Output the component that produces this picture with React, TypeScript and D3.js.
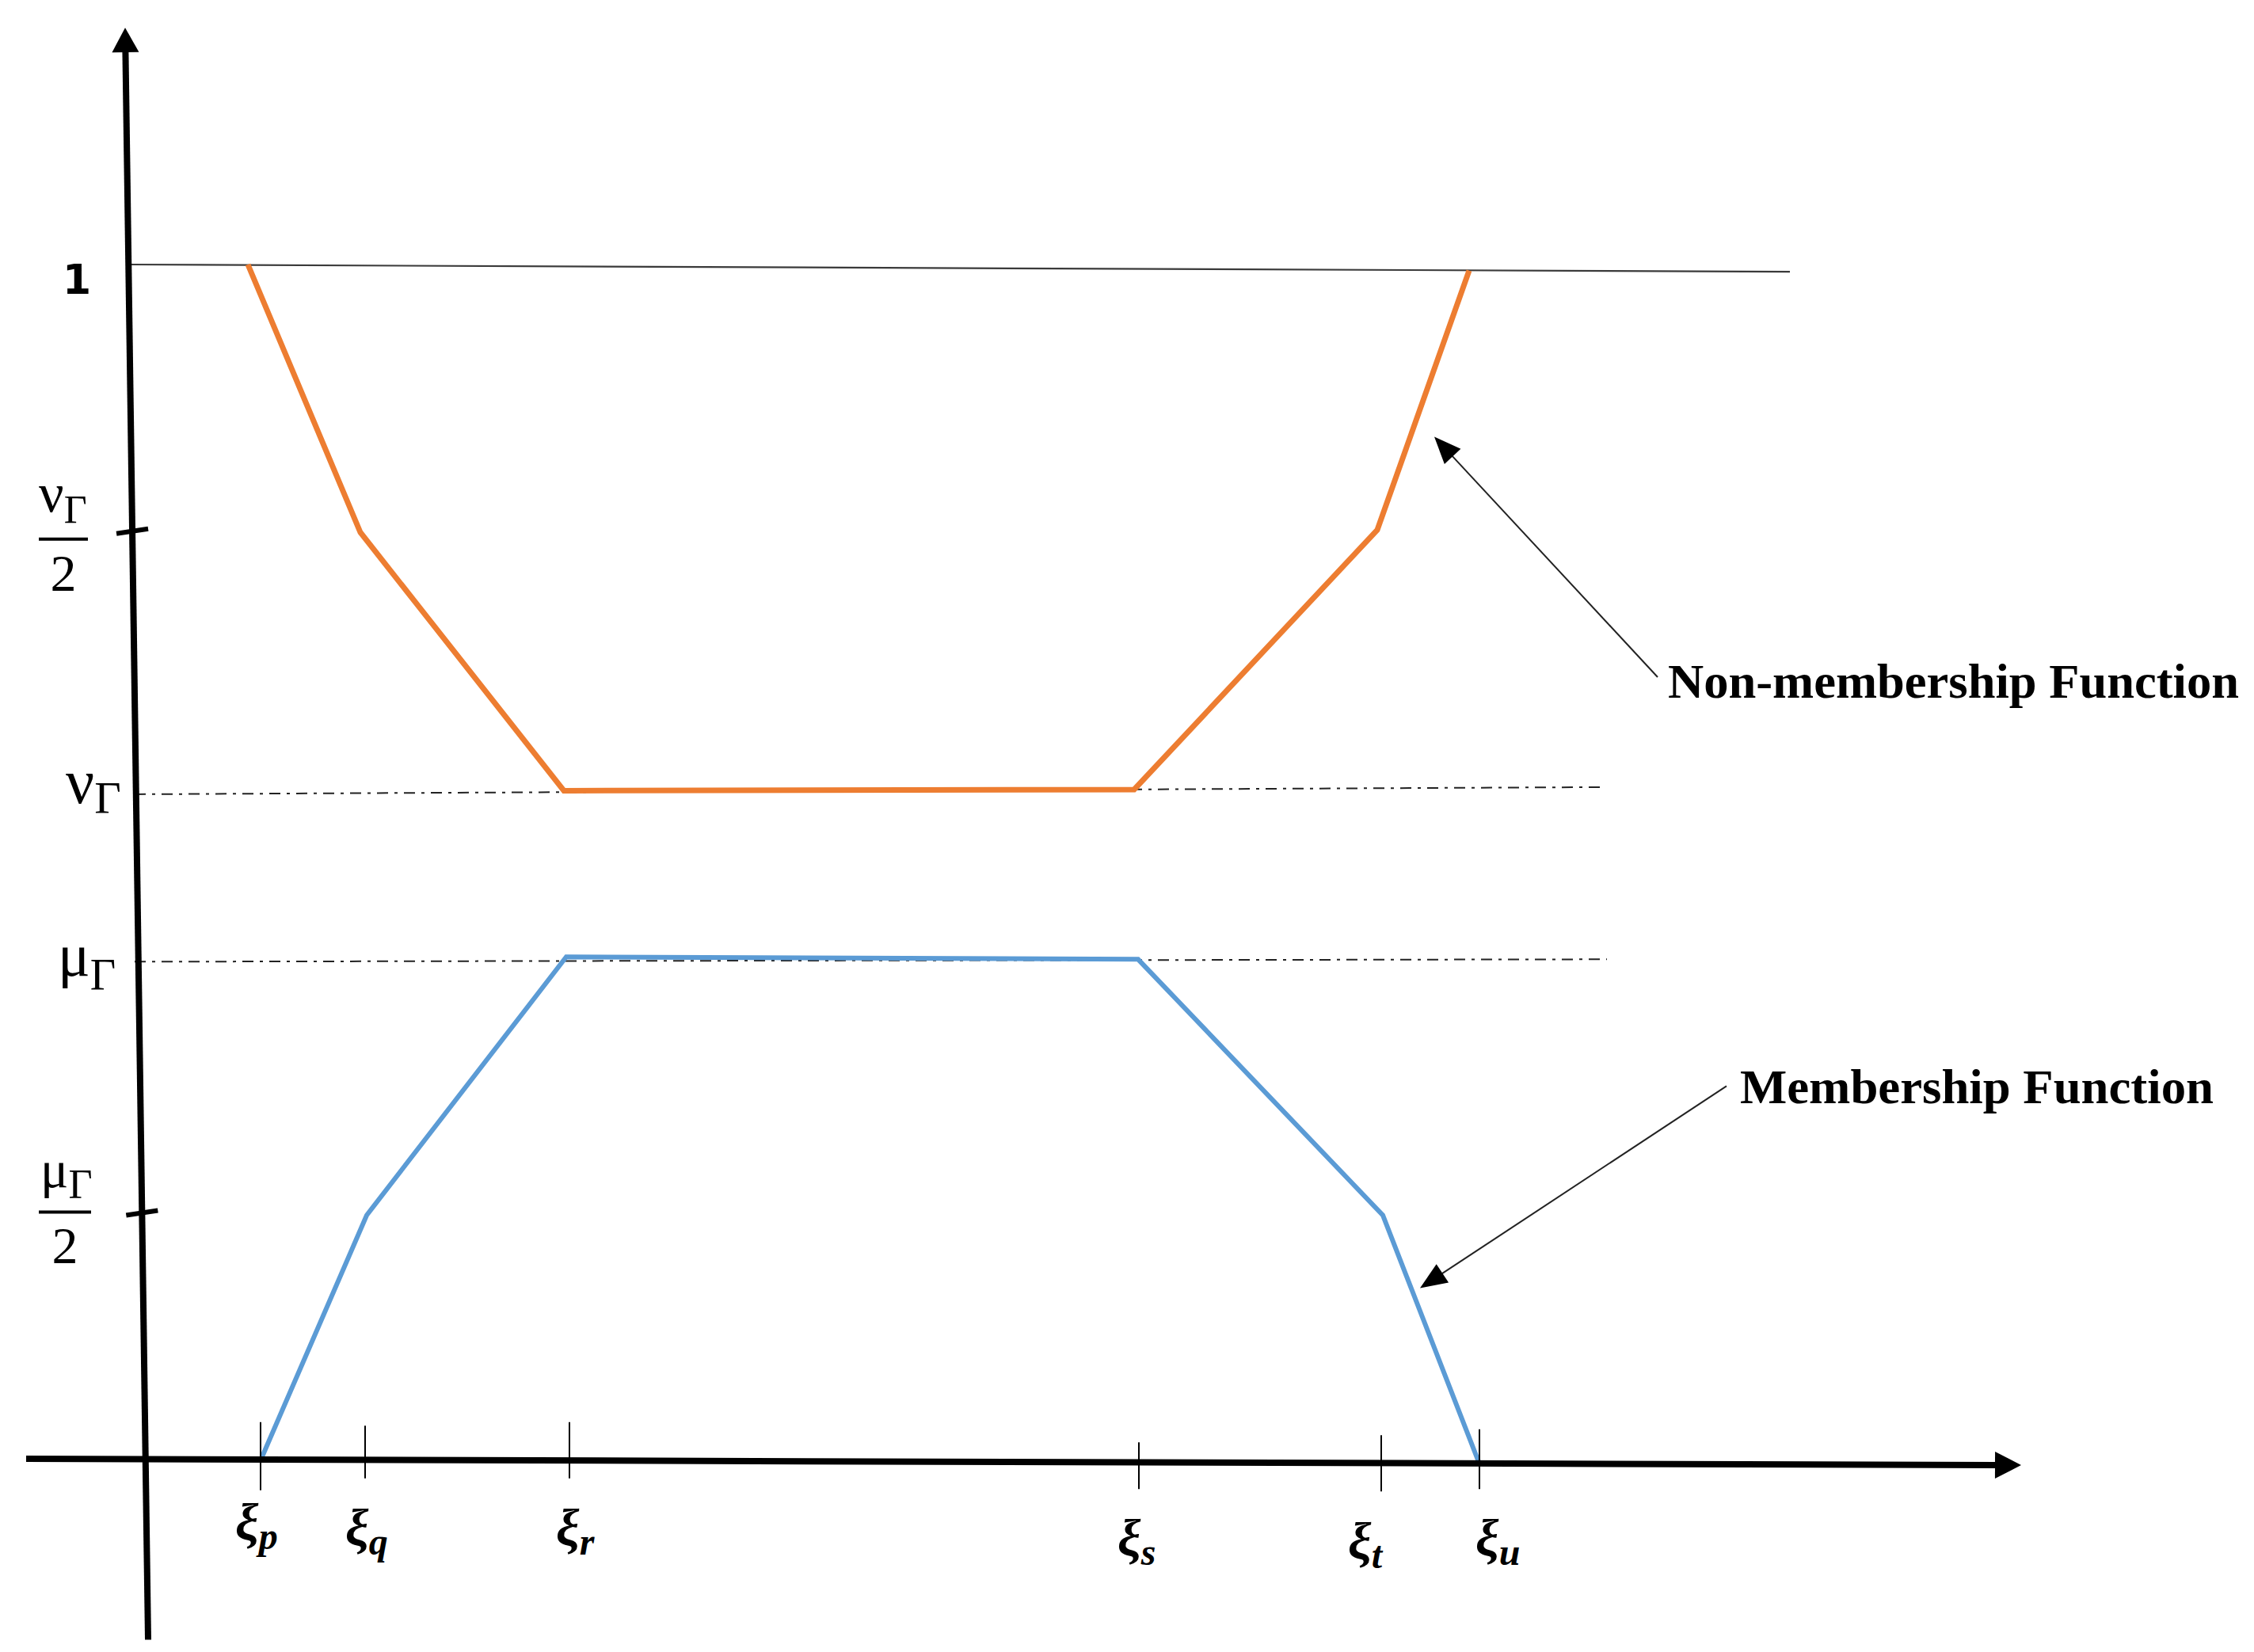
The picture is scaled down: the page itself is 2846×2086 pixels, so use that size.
import React from 'react';
import * as d3 from 'd3';

const W = 2846;
const H = 2086;

// ξ tick positions (x units) and names
const xiNames = ['p', 'q', 'r', 's', 't', 'u'];
const xiValues = [7.25, 13.85, 26.75, 62.7, 78.0, 84.2];
const xiTickUp = [0.032, 0.029, 0.032, 0.015, 0.021, 0.026];
const xiTickDown = [-0.025, -0.015, -0.015, -0.024, -0.026, -0.024];
const xiLabelDx = [-32, -25, -17, -27, -42, -5];
const xiLabelDy = [100, 107, 107, 120, 124, 120];

// Membership function (blue)
const muX = [7.25, 13.95, 26.55, 62.65, 78.1, 84.2];
const muY = [0, 0.205, 0.421, 0.419, 0.205, -0.003];

// Non-membership function (orange)
const nuX = [6.45, 13.55, 26.4, 62.4, 77.75, 83.55];
const nuY = [1.0, 0.776, 0.56, 0.561, 0.778, 0.995];

// reference levels
const oneLineX = [-1.05, 103.8];
const oneLineY = [1.0, 0.994];
const nuLevelX = [-0.7, 92.15];
const nuLevelY = [0.557, 0.563];
const muLevelX = [-0.7, 92.25];
const muLevelY = [0.417, 0.419];

// y ticks: νΓ/2 and μΓ/2
const yTickValues = [0.777, 0.207];

// axes endpoints
const xAxisX = [-7.55, 118.4];
const xAxisY = [0.0013, -0.004];
const yAxisX = [0.15, -1.3];
const yAxisY = [-0.15, 1.198];

// annotations
const annNonText = 'Non-membership Function';
const annNonFrom = [95.45, 0.655];
const annNonTip = [81.35, 0.856];
const annNonLabel = [96.1, 0.638];
const annMemText = 'Membership Function';
const annMemFrom = [99.8, 0.313];
const annMemTip = [80.45, 0.144];
const annMemLabel = [100.65, 0.299];

const ORANGE = '#ED7D31';
const BLUE = '#5B9BD5';

const x = d3.scaleLinear().domain([0, 100]).range([184, 2184]);
const y = d3.scaleLinear().domain([0, 1]).range([1844, 334]);

function head(tip: number[], from: number[], len: number, half: number) {
  const dx = tip[0] - from[0];
  const dy = tip[1] - from[1];
  const L = Math.hypot(dx, dy);
  const ux = dx / L;
  const uy = dy / L;
  const bx = tip[0] - ux * len;
  const by = tip[1] - uy * len;
  return {
    pts: `${tip[0]},${tip[1]} ${bx - uy * half},${by + ux * half} ${bx + uy * half},${by - ux * half}`,
    base: [bx + ux * 2, by + uy * 2],
  };
}

const line = d3
  .line<[number, number]>()
  .x((d) => x(d[0]))
  .y((d) => y(d[1]));

export default function App() {
  const serif = '"Liberation Serif", "Times New Roman", serif';

  const muPts = muX.map((v, i) => [v, muY[i]] as [number, number]);
  const nuPts = nuX.map((v, i) => [v, nuY[i]] as [number, number]);

  // axes in pixels
  const xa0 = [x(xAxisX[0]), y(xAxisY[0])];
  const xa1 = [x(xAxisX[1]), y(xAxisY[1])];
  const xHead = head(xa1, xa0, 33, 17);
  const ya0 = [x(yAxisX[0]), y(yAxisY[0])];
  const ya1 = [x(yAxisX[1]), y(yAxisY[1])];
  const yHead = head(ya1, ya0, 31, 17);

  const axisXAt = (py: number) => ya0[0] + ((ya1[0] - ya0[0]) * (py - ya0[1])) / (ya1[1] - ya0[1]);

  const nonFrom = [x(annNonFrom[0]), y(annNonFrom[1])];
  const nonTip = [x(annNonTip[0]), y(annNonTip[1])];
  const nonHead = head(nonTip, nonFrom, 34, 14);
  const memFrom = [x(annMemFrom[0]), y(annMemFrom[1])];
  const memTip = [x(annMemTip[0]), y(annMemTip[1])];
  const memHead = head(memTip, memFrom, 34, 14);

  const x0 = x(0);
  const yNuHalf = y(yTickValues[0]);
  const yMuHalf = y(yTickValues[1]);
  const yNu = y(nuLevelY[0]);
  const yMu = y(muLevelY[0]);

  return (
    <svg
      width={W}
      height={H}
      viewBox={`0 0 ${W} ${H}`}
      style={{ position: 'absolute', left: 0, top: 0, display: 'block', background: '#fff' }}
    >
      <rect x={0} y={0} width={W} height={H} fill="#fff" />

      {/* level 1 line */}
      <line
        x1={x(oneLineX[0])}
        y1={y(oneLineY[0])}
        x2={x(oneLineX[1])}
        y2={y(oneLineY[1])}
        stroke="#3a3a3a"
        strokeWidth={2.2}
      />
      {/* dash-dot reference levels */}
      <line
        x1={x(nuLevelX[0])}
        y1={y(nuLevelY[0])}
        x2={x(nuLevelX[1])}
        y2={y(nuLevelY[1])}
        stroke="#222"
        strokeWidth={2}
        strokeDasharray="14 8 4 8"
      />
      <line
        x1={x(muLevelX[0])}
        y1={y(muLevelY[0])}
        x2={x(muLevelX[1])}
        y2={y(muLevelY[1])}
        stroke="#222"
        strokeWidth={2}
        strokeDasharray="14 8 4 8"
      />

      {/* series */}
      <path d={line(nuPts) || ''} fill="none" stroke={ORANGE} strokeWidth={7} strokeLinejoin="miter" />
      <path d={line(muPts) || ''} fill="none" stroke={BLUE} strokeWidth={6} strokeLinejoin="miter" />

      {/* x ticks */}
      {xiValues.map((v, i) => (
        <line
          key={'xt' + i}
          x1={x(v)}
          x2={x(v)}
          y1={y(xiTickUp[i])}
          y2={y(xiTickDown[i])}
          stroke="#000"
          strokeWidth={2}
        />
      ))}

      {/* axes */}
      <line x1={xa0[0]} y1={xa0[1]} x2={xHead.base[0]} y2={xHead.base[1]} stroke="#000" strokeWidth={8} />
      <polygon points={xHead.pts} fill="#000" />
      <line x1={ya0[0]} y1={ya0[1]} x2={yHead.base[0]} y2={yHead.base[1]} stroke="#000" strokeWidth={8} />
      <polygon points={yHead.pts} fill="#000" />

      {/* y ticks */}
      {yTickValues.map((v, i) => {
        const py = y(v);
        const cx = axisXAt(py);
        return (
          <line
            key={'yt' + i}
            x1={cx - 20}
            y1={py + 3}
            x2={cx + 20}
            y2={py - 3}
            stroke="#000"
            strokeWidth={6}
          />
        );
      })}

      {/* y labels */}
      <text
        x={x0 - 87}
        y={y(1) + 37}
        textAnchor="middle"
        fontFamily='"DejaVu Sans", sans-serif'
        fontWeight="bold"
        fontSize={52}
        fill="#000"
      >
        1
      </text>

      {/* νΓ / 2 */}
      <text x={49} y={yNuHalf - 25} fontFamily={serif} fontSize={70} fill="#000">
        ν<tspan fontSize={50} dy={14}>Γ</tspan>
      </text>
      <line x1={49} x2={111} y1={yNuHalf + 10} y2={yNuHalf + 10} stroke="#000" strokeWidth={4} />
      <text x={80} y={yNuHalf + 75} textAnchor="middle" fontFamily={serif} fontSize={66} fill="#000">
        2
      </text>

      {/* νΓ */}
      <text x={83} y={yNu + 11} fontFamily={serif} fontSize={80} fill="#000">
        ν<tspan fontSize={58} dy={13}>Γ</tspan>
      </text>

      {/* μΓ */}
      <text x={73} y={yMu + 18} fontFamily={serif} fontSize={76} fill="#000">
        μ<tspan fontSize={56} dy={18}>Γ</tspan>
      </text>

      {/* μΓ / 2 */}
      <text x={51} y={yMuHalf - 32} fontFamily={serif} fontSize={66} fill="#000">
        μ<tspan fontSize={52} dy={14}>Γ</tspan>
      </text>
      <line x1={49} x2={115} y1={yMuHalf - 1} y2={yMuHalf - 1} stroke="#000" strokeWidth={4} />
      <text x={82} y={yMuHalf + 64} textAnchor="middle" fontFamily={serif} fontSize={66} fill="#000">
        2
      </text>

      {/* x labels */}
      {xiValues.map((v, i) => (
        <text
          key={'xl' + i}
          x={x(v) + xiLabelDx[i]}
          y={y(0) + xiLabelDy[i]}
          fontFamily={serif}
          fontStyle="italic"
          fontWeight="bold"
          fontSize={66}
          fill="#000"
        >
          ξ<tspan fontSize={48} dy={12}>{xiNames[i]}</tspan>
        </text>
      ))}

      {/* annotations */}
      <line
        x1={nonFrom[0]}
        y1={nonFrom[1]}
        x2={nonHead.base[0]}
        y2={nonHead.base[1]}
        stroke="#222"
        strokeWidth={2}
      />
      <polygon points={nonHead.pts} fill="#000" />
      <text
        x={x(annNonLabel[0])}
        y={y(annNonLabel[1])}
        fontFamily={serif}
        fontWeight="bold"
        fontSize={61}
        textLength={721}
        lengthAdjust="spacingAndGlyphs"
        fill="#000"
      >
        {annNonText}
      </text>

      <line
        x1={memFrom[0]}
        y1={memFrom[1]}
        x2={memHead.base[0]}
        y2={memHead.base[1]}
        stroke="#222"
        strokeWidth={2}
      />
      <polygon points={memHead.pts} fill="#000" />
      <text
        x={x(annMemLabel[0])}
        y={y(annMemLabel[1])}
        fontFamily={serif}
        fontWeight="bold"
        fontSize={62}
        textLength={598}
        lengthAdjust="spacingAndGlyphs"
        fill="#000"
      >
        {annMemText}
      </text>
    </svg>
  );
}
